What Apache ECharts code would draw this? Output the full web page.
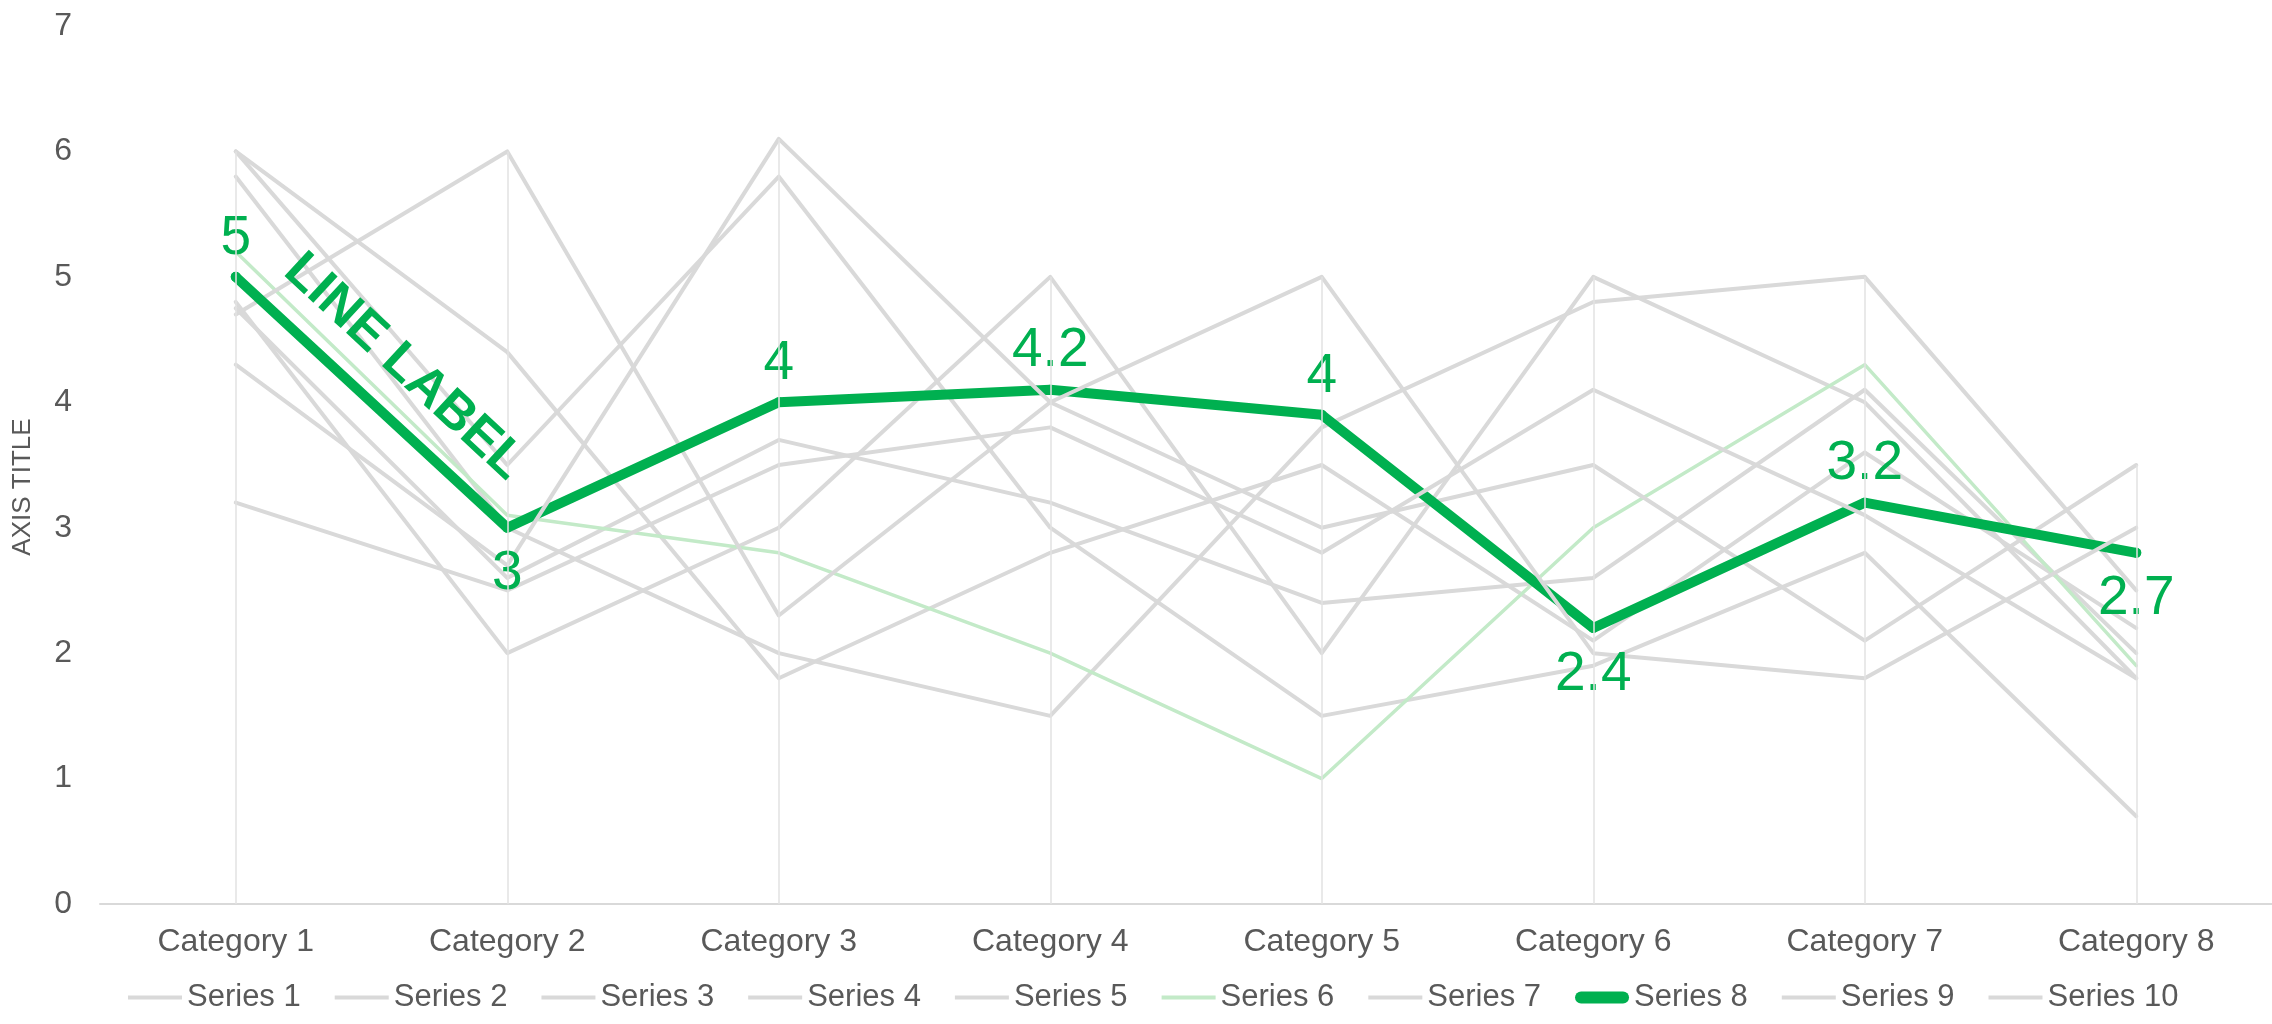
<!DOCTYPE html>
<html>
<head>
<meta charset="utf-8">
<title>Line chart</title>
<script src="https://cdn.jsdelivr.net/npm/echarts@6/dist/echarts.min.js"></script>
<style>
  html, body { margin: 0; padding: 0; background: #fff; }
  #chart { width: 2272px; height: 1024px; }
</style>
</head>
<body>
<div id="chart"></div>
<script>
'use strict';

// data
var categories = ['Category 1', 'Category 2', 'Category 3', 'Category 4', 'Category 5', 'Category 6', 'Category 7', 'Category 8'];
var seriesNames = ['Series 1', 'Series 2', 'Series 3', 'Series 4', 'Series 5', 'Series 6', 'Series 7', 'Series 8', 'Series 9', 'Series 10'];

var series1 = [6.0, 4.4, 1.8, 2.8, 3.5, 2.1, 3.6, 2.2];
var series2 = [6.0, 3.5, 5.8, 3.0, 1.5, 1.9, 2.8, 0.7];
var series3 = [5.8, 3.0, 2.0, 1.5, 3.8, 4.8, 5.0, 2.5];
var series4 = [4.8, 2.0, 3.0, 5.0, 2.0, 5.0, 4.0, 1.8];
var series5 = [4.75, 2.6, 3.7, 3.2, 2.4, 2.6, 4.1, 2.0];
var series6 = [5.2, 3.1, 2.8, 2.0, 1.0, 3.0, 4.3, 1.9];
var series7 = [4.7, 6.0, 2.3, 4.0, 3.0, 3.5, 2.1, 3.5];
var series8 = [5.0, 3.0, 4.0, 4.1, 3.9, 2.2, 3.2, 2.8];
var series9 = [4.3, 2.7, 6.1, 4.0, 5.0, 2.0, 1.8, 3.0];
var series10 = [3.2, 2.5, 3.5, 3.8, 2.8, 4.1, 3.1, 1.8];

// the labels shown on series 8 (typed in the original, not the values)
var series8Labels = ['5', '3', '4', '4.2', '4', '2.4', '3.2', '2.7'];
var series8LabelPos = ['top', 'bottom', 'top', 'top', 'top', 'bottom', 'top', 'bottom'];
var lineLabel = 'LINE LABEL';

var yTicks = [0, 1, 2, 3, 4, 5, 6, 7];

var allData = [series1, series2, series3, series4, series5, series6, series7, series8, series9, series10];

var GRAY = '#D9D9D9';
var PALE = '#C3EAC8';
var GREEN = '#00B050';
var TEXT = '#595959';
var FONT = '"Liberation Sans", Arial, sans-serif';

// legend icons: thin bar for the plain lines, fat rounded bar for series 8
var THIN_ICON = 'path://M0,0h54v4h-54z';
var FAT_ICON = 'path://M6,0h42a6,6 0 0 1 0,12h-42a6,6 0 0 1 0,-12z';

var myChart = echarts.init(document.getElementById('chart'));

// drop lines: from each category's highest point down to the axis
var dropLines = categories.map(function (c, i) {
	var top = Math.max.apply(null, allData.map(function (d) { return d[i]; }));
	return [{ coord: [c, 0] }, { coord: [c, top] }];
});

var series = allData.map(function (d, k) {
	var s = {
		name: seriesNames[k],
		type: 'line',
		data: d,
		symbol: 'none',
		animation: false,
		lineStyle: { color: GRAY, width: 4, cap: 'round', join: 'round' },
		itemStyle: { color: GRAY }
	};
	if (k === 5) {
		s.lineStyle.color = PALE;
		s.lineStyle.width = 3.5;
		s.itemStyle.color = PALE;
	}
	if (k === 7) {
		s.symbol = 'circle';
		s.symbolSize = 10;
		s.showSymbol = true;
		s.lineStyle = { color: GREEN, width: 10, cap: 'round', join: 'round' };
		s.itemStyle = { color: GREEN };
		s.data = d.map(function (v, i) {
			var pos = series8LabelPos[i];
			return {
				value: v,
				label: {
					show: true,
					position: pos,
					distance: pos === 'bottom' ? 14 : 6,
					formatter: series8Labels[i],
					color: GREEN,
					fontSize: 55,
					fontFamily: FONT
				}
			};
		});
		s.markLine = {
			silent: true,
			symbol: 'none',
			animation: false,
			lineStyle: { color: 'rgba(0,0,0,0)', width: 1 },
			label: {
				show: true,
				position: 'middle',
				formatter: lineLabel,
				color: GREEN,
				fontSize: 52,
				fontWeight: 'bold',
				fontFamily: FONT,
				distance: 22
			},
			data: [[{ coord: [categories[0], d[0]] }, { coord: [categories[1], d[1]] }]]
		};
	}
	if (k === 0) {
		s.markLine = {
			silent: true,
			symbol: 'none',
			animation: false,
			label: { show: false },
			lineStyle: { color: '#E2E2E2', width: 1.5, type: 'solid' },
			data: dropLines
		};
	}
	return s;
});

var legendData = seriesNames.map(function (n, k) {
	return { name: n, icon: k === 7 ? FAT_ICON : THIN_ICON };
});

var option = {
	backgroundColor: '#fff',
	animation: false,
	textStyle: { fontFamily: FONT },
	grid: { left: 100, top: 26, right: 0, bottom: 120, containLabel: false },
	legend: {
		data: legendData,
		bottom: 6,
		left: 123,
		itemWidth: 54,
		itemHeight: 14,
		itemGap: 34,
		textStyle: { color: TEXT, fontSize: 31, fontFamily: FONT }
	},
	xAxis: {
		type: 'category',
		data: categories,
		boundaryGap: true,
		axisLine: { lineStyle: { color: GRAY, width: 2 } },
		axisTick: { show: false },
		splitLine: { show: false },
		axisLabel: { color: TEXT, fontSize: 32, margin: 22, fontFamily: FONT }
	},
	yAxis: {
		type: 'value',
		min: yTicks[0],
		max: yTicks[yTicks.length - 1],
		interval: 1,
		name: 'AXIS TITLE',
		nameLocation: 'middle',
		nameRotate: 90,
		nameGap: 64,
		nameTextStyle: { color: TEXT, fontSize: 26, fontFamily: FONT, padding: [0, 44, 0, 0] },
		axisLine: { show: false },
		axisTick: { show: false },
		splitLine: { show: false },
		axisLabel: { color: TEXT, fontSize: 32, margin: 28, fontFamily: FONT }
	},
	series: series
};

myChart.setOption(option);

window.addEventListener('resize', function () {
	myChart.resize();
});
</script>
</body>
</html>
